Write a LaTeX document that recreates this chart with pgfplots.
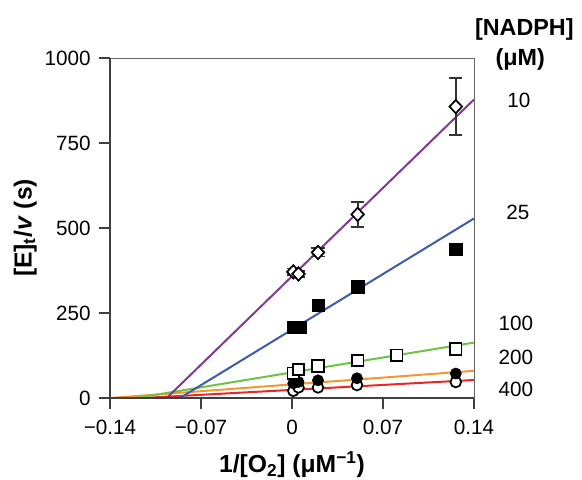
\documentclass[border=0pt]{standalone}
\usepackage{fontspec}
\setmainfont{Liberation Sans}
\usepackage{pgfplots}
\pgfplotsset{compat=1.18}

\definecolor{cpurple}{RGB}{128,58,150}
\definecolor{cblue}{RGB}{62,92,172}
\definecolor{cgreen}{RGB}{110,195,70}
\definecolor{corange}{RGB}{245,150,50}
\definecolor{cred}{RGB}{232,40,40}

\begin{document}
\begin{tikzpicture}
\path[use as bounding box] (-82.5pt,-60.75pt) rectangle ++(436.5pt,359.25pt);
\begin{axis}[
  scale only axis,
  width=273pt, height=255pt,
  xmin=-0.14, xmax=0.14,
  ymin=0, ymax=1000,
  axis line style={black!60, line width=0.7pt},
  xtick={-0.14,-0.07,0,0.07,0.14},
  xticklabels={−0.14,−0.07,0,0.07,0.14},
  ytick={0,250,500,750,1000},
  yticklabels={0,250,500,750,1000},
  tick align=outside,
  major tick length=8pt,
  tick style={black!75, line width=1.5pt},
  xtick pos=bottom, ytick pos=left,
  ticklabel style={font=\fontsize{15.5}{17}\selectfont},
  xticklabel style={yshift=-5pt},
  yticklabel style={xshift=-3pt},
  xlabel={\bfseries 1/[O\textsubscript{2}] (μM\textsuperscript{−1})},
  ylabel={\bfseries [E]\textsubscript{t}/\textit{v} (s)},
  label style={font=\fontsize{18.5}{20}\selectfont},
  xlabel style={yshift=-6pt},
  ylabel style={yshift=-1pt},
  clip=false,
]
% fitted lines
\begin{scope}
\clip (axis cs:-0.14,0) rectangle (axis cs:0.14,1000);
\addplot[cred, line width=1.5pt] coordinates {(-0.115,0) (0.14,53)};
\addplot[corange, line width=1.5pt] coordinates {(-0.14,0) (0.14,80)};
\addplot[cgreen, line width=1.5pt] coordinates {(-0.12,0) (0.14,163)};
\addplot[cblue, line width=1.5pt] coordinates {(-0.0862,0) (0.14,528)};
\addplot[cpurple, line width=1.5pt] coordinates {(-0.0964,0) (0.14,878)};
\end{scope}
\draw[black!75, line width=1.5pt] (rel axis cs:0,1) -- (rel axis cs:0,0) -- (rel axis cs:1,0);

% 400 uM: open circles
\addplot[only marks, mark=*, mark size=4pt, mark options={fill=white, draw=black, line width=1.3pt}]
  coordinates {(0.001,21) (0.005,31) (0.020,31) (0.050,38) (0.126,47)};
% 200 uM: filled circles
\addplot[only marks, mark=*, mark size=4.2pt, mark options={fill=black, draw=black}]
  coordinates {(0.001,43) (0.005,47) (0.020,52) (0.050,58) (0.126,72)};
% 100 uM: open squares
\addplot[only marks, mark=square*, mark size=4.3pt, mark options={fill=white, draw=black, line width=1.3pt}]
  coordinates {(0.001,73) (0.005,84) (0.020,94) (0.0505,110) (0.0805,126) (0.126,144)};
% 25 uM: filled squares
\addplot[only marks, mark=square*, mark size=4.6pt, mark options={fill=black, draw=black},
  error bars/.cd, y dir=both, y explicit, error bar style={black!80, line width=1.4pt}, error mark options={rotate=90, mark size=4.6pt, black!80, line width=1.4pt}]
  coordinates {(0.001,208) +- (0,6) (0.006,208) +- (0,6) (0.020,273) +- (0,6) (0.0505,327) +- (0,6) (0.126,437) +- (0,15)};
% 10 uM: open diamonds
\addplot[only marks, mark=diamond*, mark size=5pt, mark options={fill=white, draw=black, line width=1.3pt, xscale=1.25},
  error bars/.cd, y dir=both, y explicit, error bar style={black!80, line width=1.4pt}, error mark options={rotate=90, mark size=5pt, black!80, line width=1.4pt}]
  coordinates {(0.001,371) +- (0,10) (0.005,365) +- (0,8) (0.020,428) +- (0,12) (0.0505,540) +- (0,37) (0.126,857) +- (0,83)};

% NADPH labels
\node[font=\bfseries\fontsize{17.5}{19}\selectfont] at (axis cs:0.1787,1085) {[NADPH]};
\node[font=\bfseries\fontsize{17.5}{19}\selectfont] at (axis cs:0.1755,995) {(μM)};
\node[font=\fontsize{15.5}{17}\selectfont] at (axis cs:0.1746,876) {10};
\node[font=\fontsize{15.5}{17}\selectfont] at (axis cs:0.1738,547) {25};
\node[font=\fontsize{15.5}{17}\selectfont] at (axis cs:0.1723,218) {100};
\node[font=\fontsize{15.5}{17}\selectfont] at (axis cs:0.1723,118) {200};
\node[font=\fontsize{15.5}{17}\selectfont] at (axis cs:0.1723,24) {400};
\end{axis}
\end{tikzpicture}
\end{document}
